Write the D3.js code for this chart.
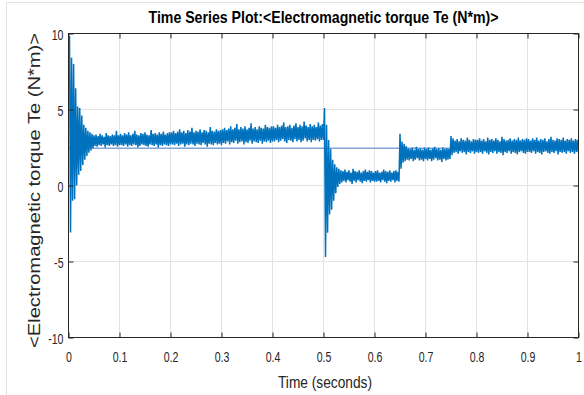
<!DOCTYPE html>
<html>
<head>
<meta charset="utf-8">
<script src="https://cdn.jsdelivr.net/npm/d3@7"></script>
<style>
  html, body { margin: 0; padding: 0; background: #fff; }
  svg { display: block; }
  text { font-family: "Liberation Sans", Arial, sans-serif; }
</style>
</head>
<body>
<script>
// ---------------- data ----------------
const titleText = "Time Series Plot:<Electromagnetic torque Te (N*m)>";
const xLabel = "Time (seconds)";
const yLabel = "<Electromagnetic torque Te (N*m)>";
const xTicks = [0, 0.1, 0.2, 0.3, 0.4, 0.5, 0.6, 0.7, 0.8, 0.9, 1];
const xTickLabels = ["0", "0.1", "0.2", "0.3", "0.4", "0.5", "0.6", "0.7", "0.8", "0.9", "1"];
const yTicks = [-10, -5, 0, 5, 10];
const yTickLabels = ["-10", "-5", "0", "5", "10"];
const sampleStep = 0.004;     // one high/low pair every 4 ms
const refValue = 2.45;        // constant reference trace
const refTimes = [0, 1];

// upper peaks of the torque oscillation, one per 4 ms
const teHigh = [
  // 0.0 - 0.1
  9.8, 8.4, 8.0, 6.4, 5.2, 5.1, 4.6, 4.0, 3.8, 3.6, 3.5, 3.4, 3.3, 3.35, 3.25, 3.4, 3.3, 3.2, 3.45, 3.3, 3.25, 3.35, 3.3, 3.6, 3.3,
  // 0.1 - 0.2
  3.4, 3.3, 3.45, 3.35, 3.5, 3.3, 3.4, 3.6, 3.35, 3.3, 3.45, 3.4, 3.5, 3.35, 3.3, 3.65, 3.4, 3.45, 3.35, 3.5, 3.4, 3.55, 3.35, 3.45, 3.5,
  // 0.2 - 0.3
  3.5, 3.6, 3.45, 3.55, 3.7, 3.5, 3.6, 3.45, 3.65, 3.55, 3.8, 3.5, 3.6, 3.55, 3.7, 3.5, 3.65, 3.6, 3.5, 3.85, 3.6, 3.55, 3.7, 3.6, 3.65,
  // 0.3 - 0.4
  3.7, 3.8, 3.65, 3.75, 3.9, 3.7, 3.8, 4.05, 3.7, 3.85, 3.75, 3.9, 3.7, 3.8, 4.1, 3.75, 3.85, 3.7, 3.9, 3.8, 3.75, 4.0, 3.85, 3.8, 3.9,
  // 0.4 - 0.5
  3.9, 3.8, 4.0, 3.85, 3.95, 4.15, 3.85, 3.9, 4.0, 3.8, 3.95, 4.1, 3.85, 4.0, 3.9, 4.2, 3.95, 3.85, 4.05, 3.9, 4.0, 3.85, 4.15, 3.95, 4.05,
  // 0.5 - 0.6
  5.1, 4.0, 3.0, 2.4, 1.7, 1.4, 1.2, 1.1, 1.0, 0.95, 1.05, 0.9, 1.0, 0.85, 1.1, 0.95, 0.9, 1.0, 0.85, 0.95, 1.05, 0.9, 1.0, 0.95, 0.85,
  // 0.6 - 0.7
  0.95, 1.0, 0.85, 0.9, 1.05, 0.95, 0.9, 1.0, 0.85, 0.95, 1.0, 0.9, 3.4, 2.9, 2.75, 2.6, 2.45, 2.4, 2.5, 2.35, 2.55, 2.4, 2.45, 2.35, 2.5,
  // 0.7 - 0.8
  2.4, 2.5, 2.35, 2.45, 2.55, 2.4, 2.45, 2.35, 2.5, 2.4, 2.45, 2.4, 3.25, 3.1, 2.95, 3.05, 2.9, 3.1, 3.0, 2.95, 3.15, 3.0, 2.9, 3.05, 3.0,
  // 0.8 - 0.9
  3.0, 3.1, 2.95, 3.05, 2.9, 3.15, 3.0, 3.05, 2.95, 3.1, 3.0, 2.9, 3.2, 3.05, 2.95, 3.0, 3.1, 2.95, 3.05, 3.0, 3.15, 2.95, 3.05, 3.0, 3.1,
  // 0.9 - 1.0
  3.05, 2.95, 3.1, 3.0, 3.15, 2.95, 3.05, 3.0, 3.1, 2.9, 3.05, 3.2, 3.0, 2.95, 3.1, 3.05, 3.0, 3.15, 2.95, 3.05, 3.0, 3.1, 2.95, 3.05, 3.0
];

// lower troughs of the torque oscillation, 2 ms after each peak
const teLow = [
  // 0.0 - 0.1
  -3.1, -1.0, -0.9, 0.0, 0.7, 0.95, 1.35, 1.7, 1.95, 2.15, 2.3, 2.45, 2.6, 2.55, 2.65, 2.6, 2.7, 2.5, 2.65, 2.6, 2.7, 2.6, 2.65, 2.55, 2.65,
  // 0.1 - 0.2
  2.65, 2.6, 2.7, 2.55, 2.65, 2.6, 2.7, 2.65, 2.5, 2.6, 2.7, 2.65, 2.6, 2.55, 2.7, 2.65, 2.6, 2.7, 2.5, 2.65, 2.6, 2.7, 2.65, 2.6, 2.7,
  // 0.2 - 0.3
  2.7, 2.65, 2.75, 2.6, 2.7, 2.75, 2.55, 2.7, 2.65, 2.75, 2.7, 2.6, 2.75, 2.7, 2.65, 2.8, 2.7, 2.55, 2.75, 2.7, 2.65, 2.8, 2.7, 2.75, 2.65,
  // 0.3 - 0.4
  2.8, 2.75, 2.9, 2.7, 2.85, 2.8, 2.95, 2.75, 2.85, 2.9, 2.7, 2.85, 2.8, 2.95, 2.75, 2.9, 2.85, 2.8, 2.95, 2.75, 2.9, 2.85, 2.95, 2.8, 2.9,
  // 0.4 - 0.5
  2.9, 3.0, 2.85, 2.95, 3.05, 2.9, 2.8, 3.0, 2.95, 2.85, 3.05, 2.9, 3.0, 2.85, 2.95, 3.1, 2.9, 3.0, 2.85, 3.0, 2.95, 3.05, 2.9, 3.0, 3.0,
  // 0.5 - 0.6
  -4.7, -3.1, -1.9, -1.6, -1.0, -0.5, -0.1, 0.1, 0.2, 0.3, 0.2, 0.35, 0.25, 0.1, 0.3, 0.2, 0.35, 0.25, 0.15, 0.3, 0.25, 0.35, 0.2, 0.3, 0.25,
  // 0.6 - 0.7
  0.25, 0.3, 0.2, 0.35, 0.25, 0.15, 0.3, 0.25, 0.35, 0.2, 0.3, 0.25, 1.1, 1.5, 1.6, 1.7, 1.65, 1.75, 1.6, 1.7, 1.8, 1.65, 1.7, 1.6, 1.75,
  // 0.7 - 0.8
  1.65, 1.75, 1.6, 1.7, 1.8, 1.65, 1.7, 1.55, 1.75, 1.65, 1.7, 1.75, 2.0, 2.15, 2.2, 2.1, 2.25, 2.15, 2.2, 2.05, 2.2, 2.15, 2.25, 2.1, 2.2,
  // 0.8 - 0.9
  2.15, 2.2, 2.1, 2.25, 2.15, 2.05, 2.2, 2.15, 2.25, 2.1, 2.2, 2.15, 2.0, 2.2, 2.15, 2.25, 2.1, 2.2, 2.15, 2.05, 2.2, 2.25, 2.15, 2.1, 2.2,
  // 0.9 - 1.0
  2.2, 2.15, 2.25, 2.1, 2.2, 2.15, 2.05, 2.2, 2.25, 2.15, 2.1, 2.2, 2.15, 2.25, 2.05, 2.2, 2.15, 2.2, 2.1, 2.25, 2.15, 2.2, 2.1, 2.2, 2.15
];

// ---------------- layout ----------------
const W = 584, H = 395;
const plot = { left: 68.5, right: 578.5, top: 33.5, bottom: 337.5 };
const axisColor = "#262626";
const gridColor = "#e3e3e3";
const lineColor = "#0072BD";
const refColor = "#82a3d4";
const sx = 0.73; // horizontal compression of the text glyphs

const svg = d3.select("body").append("svg")
  .attr("width", W).attr("height", H);

svg.append("rect").attr("width", W).attr("height", H).attr("fill", "#fff");

// figure frame (light)
svg.append("path")
  .attr("d", `M6.5,${H} V2.5 H${W}`)
  .attr("fill", "none").attr("stroke", "#e2e2e2").attr("stroke-width", 1);

const x = d3.scaleLinear().domain([0, 1]).range([plot.left, plot.right]);
const y = d3.scaleLinear().domain([-10, 10]).range([plot.bottom, plot.top]);

// grid
const grid = svg.append("g");
grid.selectAll("line.gx").data(xTicks.slice(1, -1)).join("line")
  .attr("x1", d => x(d)).attr("x2", d => x(d))
  .attr("y1", plot.top).attr("y2", plot.bottom)
  .attr("stroke", gridColor).attr("stroke-width", 1);
grid.selectAll("line.gy").data(yTicks.slice(1, -1)).join("line")
  .attr("x1", plot.left).attr("x2", plot.right)
  .attr("y1", d => y(d)).attr("y2", d => y(d))
  .attr("stroke", gridColor).attr("stroke-width", 1);

// clip
svg.append("clipPath").attr("id", "clip")
  .append("rect").attr("x", plot.left).attr("y", plot.top)
  .attr("width", plot.right - plot.left).attr("height", plot.bottom - plot.top);

// reference line
svg.append("path")
  .datum(refTimes.map(t => [t, refValue]))
  .attr("clip-path", "url(#clip)")
  .attr("fill", "none").attr("stroke", refColor).attr("stroke-width", 1.5)
  .attr("d", d3.line().x(d => x(d[0])).y(d => y(d[1])));

// signal: peak at t, trough half a step later
const pts = [];
teHigh.forEach((v, i) => {
  const t = sampleStep * i + sampleStep / 2;
  pts.push([t, v]);
  pts.push([t + sampleStep / 2, teLow[i]]);
});
svg.append("path")
  .datum(pts)
  .attr("clip-path", "url(#clip)")
  .attr("fill", "none").attr("stroke", lineColor).attr("stroke-width", 1.5)
  .attr("stroke-linejoin", "bevel")
  .attr("d", d3.line().x(d => x(d[0])).y(d => y(d[1])));

// axes (ticks inward on all sides)
const tickLen = 5;
const gB = svg.append("g").attr("transform", `translate(0,${plot.bottom})`)
  .call(d3.axisBottom(x).tickValues(xTicks).tickFormat((d, i) => xTickLabels[i])
    .tickSizeInner(-tickLen).tickSizeOuter(0).tickPadding(14));
const gT = svg.append("g").attr("transform", `translate(0,${plot.top})`)
  .call(d3.axisTop(x).tickValues(xTicks).tickFormat("").tickSizeInner(-tickLen).tickSizeOuter(0));
const gL = svg.append("g").attr("transform", `translate(${plot.left},0)`)
  .call(d3.axisLeft(y).tickValues(yTicks).tickFormat((d, i) => yTickLabels[i])
    .tickSizeInner(-tickLen).tickSizeOuter(0).tickPadding(5));
const gR = svg.append("g").attr("transform", `translate(${plot.right},0)`)
  .call(d3.axisRight(y).tickValues(yTicks).tickFormat("").tickSizeInner(-tickLen).tickSizeOuter(0));

[gB, gT, gL, gR].forEach(g => {
  g.select(".domain").remove();
  g.selectAll(".tick line").attr("stroke", axisColor);
});
gB.selectAll(".tick text")
  .attr("font-size", 14.5).attr("fill", axisColor)
  .attr("font-family", "Liberation Sans, Arial, sans-serif")
  .attr("transform", `scale(${sx},1)`);
gL.selectAll(".tick text")
  .attr("font-size", 14.5).attr("fill", axisColor)
  .attr("font-family", "Liberation Sans, Arial, sans-serif")
  .attr("x", -5 / sx).attr("dy", "0.4em")
  .attr("transform", `scale(${sx},1)`);

// box
svg.append("rect")
  .attr("x", plot.left).attr("y", plot.top)
  .attr("width", plot.right - plot.left).attr("height", plot.bottom - plot.top)
  .attr("fill", "none").attr("stroke", axisColor).attr("stroke-width", 1);

// title
svg.append("text")
  .attr("x", 323.5).attr("y", 23)
  .attr("text-anchor", "middle")
  .attr("font-size", 17).attr("font-weight", "bold").attr("fill", "#000")
  .attr("textLength", 350).attr("lengthAdjust", "spacingAndGlyphs")
  .text(titleText);

// x label
svg.append("text")
  .attr("x", 325).attr("y", 388)
  .attr("text-anchor", "middle")
  .attr("font-size", 17).attr("fill", axisColor)
  .attr("textLength", 94).attr("lengthAdjust", "spacingAndGlyphs")
  .text(xLabel);

// y label
svg.append("text")
  .attr("transform", "translate(40,190.5) rotate(-90)")
  .attr("text-anchor", "middle")
  .attr("font-size", 16).attr("fill", axisColor)
  .attr("textLength", 315).attr("lengthAdjust", "spacingAndGlyphs")
  .text(yLabel);
</script>
</body>
</html>
